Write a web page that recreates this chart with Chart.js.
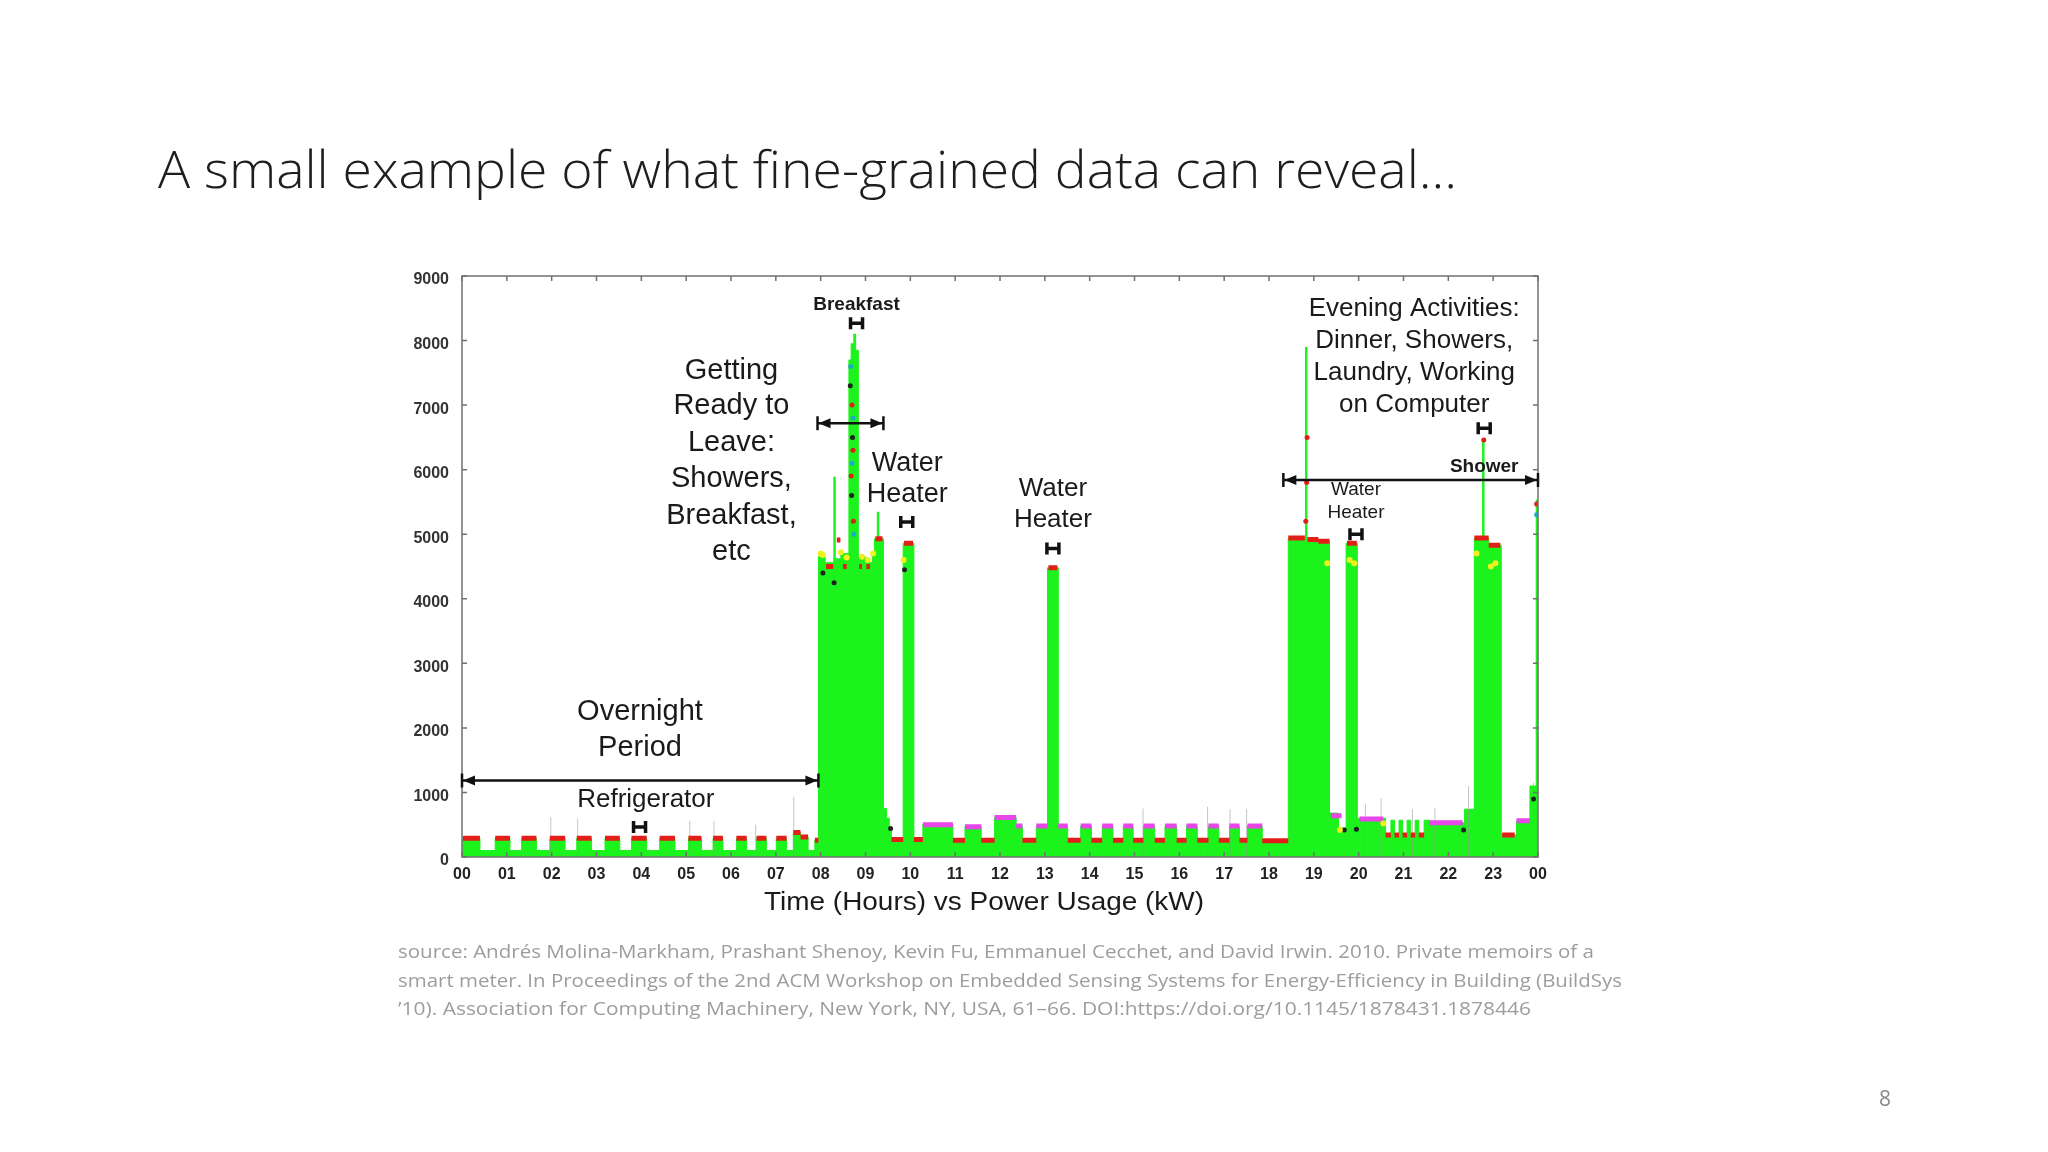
<!DOCTYPE html>
<html>
<head>
<meta charset="utf-8">
<title>Time (Hours) vs Power Usage</title>
<script src="https://cdn.jsdelivr.net/npm/chart.js@4.4.0/dist/chart.umd.min.js"></script>
<style>
  html, body { margin: 0; padding: 0; background: #fff; }
  canvas { display: block; }
</style>
</head>
<body>
<canvas id="power" width="2048" height="1152"></canvas>
<script>
// ---- data (hours, watts) ----

// hour at which each level starts, and the level it holds until the next one
const stepHours = [0, 0.40, 0.74, 1.07, 1.33, 1.66, 1.96, 2.30, 2.56, 2.89, 3.19, 3.52, 3.78, 4.12,
  4.41, 4.75, 5.05, 5.34, 5.60, 5.82, 6.12, 6.35, 6.57, 6.79, 7.01, 7.24, 7.39, 7.55, 7.72, 7.87,
  7.95, 8.10, 8.30, 8.45, 8.63, 8.68, 8.74, 8.78, 8.84, 9.00, 9.15, 9.20, 9.40, 9.47, 9.53, 9.58,
  9.84, 10.08, 10.28, 10.95, 11.22, 11.58, 11.88, 12.36, 12.50, 12.81, 13.06, 13.30, 13.51, 13.80,
  14.04, 14.28, 14.52, 14.75, 14.97, 15.20, 15.45, 15.68, 15.94, 16.16, 16.40, 16.65, 16.88, 17.12,
  17.34, 17.52, 17.85, 18.43, 18.86, 19.10, 19.35, 19.55, 19.72, 19.97, 20.60, 20.72, 20.80, 20.90,
  20.98, 21.08, 21.16, 21.26, 21.34, 21.46, 21.58, 22.36, 22.58, 22.90, 23.18, 23.52, 23.82, 23.96, 24];
const stepWatts = [290, 100, 290, 100, 290, 100, 290, 100, 290, 100, 290, 100, 290, 100,
  290, 100, 290, 100, 290, 100, 290, 100, 290, 100, 290, 100, 380, 310, 100, 260,
  4650, 4560, 4620, 4700, 7700, 7950, 8100, 7850, 4650, 4560, 4680, 4930, 750, 600, 420, 270,
  4860, 270, 510, 260, 480, 260, 610, 480, 260, 480, 4480, 480, 260, 480,
  260, 480, 260, 480, 260, 480, 260, 480, 260, 480, 260, 480, 260, 480,
  260, 480, 250, 4940, 4920, 4890, 680, 450, 4860, 600, 340, 570, 340, 570,
  340, 570, 340, 570, 340, 570, 530, 740, 4940, 4830, 340, 560, 1100, 5530, 5530];

// red "off / heater" markers on top of the steps
const redFrom = [0.02, 0.74, 1.33, 1.96, 2.56, 3.19, 3.78, 4.41, 5.05, 5.60, 6.12, 6.57, 7.01, 7.39, 7.55, 7.87,
  8.12, 8.36, 8.50, 8.86, 9.02, 9.22, 9.58, 9.86, 10.08, 10.95, 11.58, 12.50, 13.08, 13.51, 14.04, 14.52,
  14.97, 15.45, 15.94, 16.40, 16.88, 17.34, 17.85, 18.43, 18.86, 19.10, 19.74, 20.60, 20.80, 20.98,
  21.16, 21.34, 22.58, 22.90, 23.20];
const redTo = [0.40, 1.07, 1.66, 2.30, 2.89, 3.52, 4.12, 4.75, 5.34, 5.82, 6.35, 6.79, 7.24, 7.55, 7.72, 7.95,
  8.28, 8.44, 8.58, 8.92, 9.10, 9.38, 9.84, 10.06, 10.28, 11.22, 11.88, 12.81, 13.28, 13.80, 14.28, 14.75,
  15.20, 15.68, 16.16, 16.65, 17.12, 17.52, 18.43, 18.80, 19.10, 19.35, 19.96, 20.72, 20.90, 21.08,
  21.26, 21.46, 22.90, 23.16, 23.48];
const redWatts = [290, 290, 290, 290, 290, 290, 290, 290, 290, 290, 290, 290, 290, 380, 310, 260,
  4500, 4910, 4500, 4500, 4500, 4930, 270, 4860, 270, 260, 260, 260, 4480, 260, 260, 260,
  260, 260, 260, 260, 260, 260, 250, 4940, 4920, 4890, 4860, 340, 340, 340,
  340, 340, 4940, 4830, 340];

// magenta "refrigerator on" markers
const pinkFrom = [10.28, 11.22, 11.88, 12.36, 12.81, 13.30, 13.80, 14.28, 14.75, 15.20, 15.68, 16.16, 16.65,
  17.12, 17.52, 19.38, 20.02, 21.58, 23.52];
const pinkTo = [10.95, 11.58, 12.36, 12.50, 13.06, 13.51, 14.04, 14.52, 14.97, 15.45, 15.94, 16.40, 16.88,
  17.34, 17.85, 19.62, 20.55, 22.32, 23.82];
const pinkWatts = [500, 470, 610, 480, 480, 480, 480, 480, 480, 480, 480, 480, 480,
  480, 480, 640, 590, 530, 560];

// thin spikes (green inside the big loads, faint grey elsewhere)
const greenSpikeHours = [8.31, 9.28, 18.83, 22.78];
const greenSpikeWatts = [5890, 5350, 7900, 6460];
const greySpikeHours = [1.98, 2.58, 5.08, 5.62, 6.55, 7.40, 15.19, 16.63, 17.13, 17.50, 20.15, 20.50, 21.20, 21.70, 22.45, 23.90];
const greySpikeWatts = [620, 600, 560, 560, 500, 930, 750, 780, 740, 740, 830, 910, 740, 760, 1100, 1150];

// scattered classification dots
const yellowHours = [8.00, 8.05, 8.45, 8.58, 8.92, 9.05, 9.17, 9.85, 19.30, 19.80, 19.90, 22.63, 22.95, 23.05, 19.58, 20.55];
const yellowWatts = [4700, 4680, 4720, 4640, 4650, 4600, 4700, 4600, 4550, 4600, 4550, 4700, 4500, 4550, 420, 520];
const blackHours = [8.05, 8.30, 9.56, 9.87, 19.68, 19.95, 22.34, 23.90, 8.66, 8.71, 8.69];
const blackWatts = [4400, 4250, 440, 4450, 420, 430, 420, 900, 7300, 6500, 5600];
const redDotHours = [8.70, 8.72, 8.68, 8.73, 18.85, 18.84, 18.82, 22.79, 23.97];
const redDotWatts = [7000, 6300, 5900, 5200, 6500, 5800, 5200, 6460, 5470];
const cyanDotHours = [8.67, 8.72, 8.70, 8.74, 23.97];
const cyanDotWatts = [7600, 6800, 6100, 5000, 5300];

// annotations, anchored in hours / watts
const noteLines = ['Getting', 'Ready to', 'Leave:', 'Showers,', 'Breakfast,', 'etc',
  'Breakfast', 'Water', 'Heater', 'Water', 'Heater', 'Overnight', 'Period', 'Refrigerator',
  'Evening Activities:', 'Dinner, Showers,', 'Laundry, Working', 'on Computer', 'Shower', 'Water', 'Heater'];
const noteHours = [6.01, 6.01, 6.01, 6.01, 6.01, 6.01,
  8.80, 9.93, 9.93, 13.18, 13.18, 3.97, 3.97, 4.10,
  21.24, 21.24, 21.24, 21.24, 22.80, 19.94, 19.94];
const noteWatts = [7530, 6980, 6410, 5850, 5280, 4720,
  8555, 6090, 5610, 5700, 5225, 2240, 1690, 890,
  8490, 7990, 7505, 7000, 6050, 5690, 5335];
const noteKinds = ['big', 'big', 'big', 'big', 'big', 'big',
  'bold', 'wh', 'wh', 'mid', 'mid', 'big', 'big', 'mid',
  'mid', 'mid', 'mid', 'mid', 'bold', 'small', 'small'];

const markHours = [3.96, 8.80, 9.92, 13.18, 19.94, 22.80];
const markWatts = [465, 8270, 5190, 4780, 5000, 6640];

const arrowFrom = [0, 7.93, 18.32];
const arrowTo = [7.95, 9.40, 24];
const arrowWatts = [1185, 6720, 5840];

const hourLabels = ['00', '01', '02', '03', '04', '05', '06', '07', '08', '09', '10', '11', '12',
  '13', '14', '15', '16', '17', '18', '19', '20', '21', '22', '23', '00'];
const wattTicks = [0, 1000, 2000, 3000, 4000, 5000, 6000, 7000, 8000, 9000];

const sourceLines = [
  'source: Andrés Molina-Markham, Prashant Shenoy, Kevin Fu, Emmanuel Cecchet, and David Irwin. 2010. Private memoirs of a',
  'smart meter. In Proceedings of the 2nd ACM Workshop on Embedded Sensing Systems for Energy-Efficiency in Building (BuildSys',
  '\u201910). Association for Computing Machinery, New York, NY, USA, 61\u201366. DOI:https://doi.org/10.1145/1878431.1878446'
];

// ---- helpers ----
const SANS = '"Liberation Sans", Arial, sans-serif';
const SLIDE = '"Open Sans", "Noto Sans", sans-serif';

function points(hours, watts) {
  return hours.map((h, i) => ({ x: h, y: watts[i] }));
}

function segments(from, to, watts) {
  return from.flatMap((f, i) => [{ x: f, y: watts[i] }, { x: to[i], y: watts[i] }, { x: to[i], y: null }]);
}

function spikes(hours, watts) {
  return hours.flatMap((h, i) => [{ x: h, y: 0 }, { x: h, y: watts[i] }, { x: h, y: null }]);
}

function fitText(ctx, text, x, y, width, align) {
  const w = ctx.measureText(text).width;
  ctx.save();
  ctx.translate(x, y);
  ctx.scale(width / w, 1);
  ctx.textAlign = align;
  ctx.fillText(text, 0, 0);
  ctx.restore();
}

const noteFonts = {
  big: '29px ' + SANS,
  wh: '27px ' + SANS,
  mid: '26px ' + SANS,
  small: '19px ' + SANS,
  bold: 'bold 19px ' + SANS
};

const slidePlugin = {
  id: 'slide',
  beforeDraw(chart) {
    const ctx = chart.ctx;
    ctx.save();
    ctx.fillStyle = '#fff';
    ctx.fillRect(0, 0, chart.width, chart.height);

    ctx.fillStyle = '#1e1e1e';
    ctx.font = '300 51px ' + SLIDE;
    ctx.textBaseline = 'alphabetic';
    fitText(ctx, 'A small example of what fine-grained data can reveal...', 158, 188, 1299, 'left');

    ctx.fillStyle = '#9d9d9d';
    ctx.font = '19px ' + SLIDE;
    const widths = [1196, 1224, 1133];
    const bases = [958, 987, 1015];
    sourceLines.forEach((line, i) => fitText(ctx, line, 398, bases[i], widths[i], 'left'));

    ctx.fillStyle = '#8a8a8a';
    ctx.font = '21px ' + SLIDE;
    ctx.textAlign = 'center';
    ctx.fillText('8', 1885, 1106);
    ctx.restore();
  },
  afterDatasetsDraw(chart) {
    const { ctx, chartArea: a, scales: { x, y } } = chart;
    ctx.save();

    // frame with inward ticks
    ctx.strokeStyle = '#707070';
    ctx.lineWidth = 1.5;
    ctx.strokeRect(a.left, a.top, a.right - a.left, a.bottom - a.top);
    ctx.beginPath();
    hourLabels.forEach((_, h) => {
      const px = x.getPixelForValue(h);
      ctx.moveTo(px, a.top); ctx.lineTo(px, a.top + 5);
      ctx.moveTo(px, a.bottom); ctx.lineTo(px, a.bottom - 5);
    });
    wattTicks.forEach(v => {
      const py = y.getPixelForValue(v);
      ctx.moveTo(a.left, py); ctx.lineTo(a.left + 5, py);
      ctx.moveTo(a.right, py); ctx.lineTo(a.right - 5, py);
    });
    ctx.stroke();

    // arrows
    ctx.strokeStyle = '#111';
    ctx.fillStyle = '#111';
    arrowFrom.forEach((f, i) => {
      const x1 = x.getPixelForValue(f), x2 = x.getPixelForValue(arrowTo[i]);
      const py = y.getPixelForValue(arrowWatts[i]);
      ctx.lineWidth = 2.5;
      ctx.beginPath();
      ctx.moveTo(x1, py); ctx.lineTo(x2, py);
      ctx.moveTo(x1, py - 7); ctx.lineTo(x1, py + 7);
      ctx.moveTo(x2, py - 7); ctx.lineTo(x2, py + 7);
      ctx.stroke();
      ctx.beginPath();
      ctx.moveTo(x1 + 1, py); ctx.lineTo(x1 + 13, py - 5); ctx.lineTo(x1 + 13, py + 5); ctx.closePath();
      ctx.moveTo(x2 - 1, py); ctx.lineTo(x2 - 13, py - 5); ctx.lineTo(x2 - 13, py + 5); ctx.closePath();
      ctx.fill();
    });

    // H marks
    ctx.lineWidth = 3.5;
    markHours.forEach((h, i) => {
      const px = x.getPixelForValue(h), py = y.getPixelForValue(markWatts[i]);
      ctx.beginPath();
      ctx.moveTo(px - 6, py - 6); ctx.lineTo(px - 6, py + 6);
      ctx.moveTo(px + 6, py - 6); ctx.lineTo(px + 6, py + 6);
      ctx.moveTo(px - 6, py); ctx.lineTo(px + 6, py);
      ctx.stroke();
    });

    // labels
    ctx.fillStyle = '#1a1a1a';
    ctx.textAlign = 'center';
    ctx.textBaseline = 'middle';
    noteLines.forEach((t, i) => {
      ctx.font = noteFonts[noteKinds[i]];
      ctx.fillText(t, x.getPixelForValue(noteHours[i]), y.getPixelForValue(noteWatts[i]));
    });

    // axis title
    ctx.font = '26px ' + SANS;
    ctx.textBaseline = 'middle';
    fitText(ctx, 'Time (Hours) vs Power Usage (kW)', (a.left + a.right) / 2 - 16, a.bottom + 46, 440, 'center');
    ctx.restore();
  }
};

const GREEN = 'rgb(28, 242, 28)';
const RED = 'rgb(226, 30, 24)';
const PINK = 'rgb(232, 70, 232)';

new Chart(document.getElementById('power'), {
  type: 'line',
  data: {
    datasets: [
      { label: 'Dots yellow', data: points(yellowHours, yellowWatts), showLine: false, pointRadius: 3,
        pointBorderWidth: 0, pointBackgroundColor: 'rgb(240, 240, 30)', order: 1 },
      { label: 'Dots black', data: points(blackHours, blackWatts), showLine: false, pointRadius: 2.5,
        pointBorderWidth: 0, pointBackgroundColor: '#202020', order: 1 },
      { label: 'Dots red', data: points(redDotHours, redDotWatts), showLine: false, pointRadius: 2.5,
        pointBorderWidth: 0, pointBackgroundColor: RED, order: 1 },
      { label: 'Dots cyan', data: points(cyanDotHours, cyanDotWatts), showLine: false, pointRadius: 2.5,
        pointBorderWidth: 0, pointBackgroundColor: 'rgb(30, 170, 200)', order: 1 },
      { label: 'Off', data: segments(redFrom, redTo, redWatts), borderColor: RED, borderWidth: 5,
        pointRadius: 0, spanGaps: false, fill: false, order: 2 },
      { label: 'Fridge on', data: segments(pinkFrom, pinkTo, pinkWatts), borderColor: PINK, borderWidth: 5,
        pointRadius: 0, spanGaps: false, fill: false, order: 2 },
      { label: 'Green spikes', data: spikes(greenSpikeHours, greenSpikeWatts), borderColor: GREEN, borderWidth: 2.5,
        pointRadius: 0, spanGaps: false, fill: false, order: 3 },
      { label: 'Grey spikes', data: spikes(greySpikeHours, greySpikeWatts), borderColor: 'rgba(150, 150, 150, 0.55)',
        borderWidth: 1, pointRadius: 0, spanGaps: false, fill: false, order: 4 },
      { label: 'Power', data: points(stepHours, stepWatts), stepped: true, fill: 'origin',
        backgroundColor: GREEN, borderColor: GREEN, borderWidth: 1, pointRadius: 0, order: 5 }
    ]
  },
  options: {
    responsive: false,
    animation: false,
    events: [],
    layout: { padding: { left: 402, right: 510, top: 276, bottom: 225 } },
    plugins: { legend: { display: false }, tooltip: { enabled: false } },
    scales: {
      x: {
        type: 'linear', min: 0, max: 24,
        afterBuildTicks: s => { s.ticks = hourLabels.map((_, i) => ({ value: i })); },
        afterFit: s => { s.height = 70; },
        ticks: { callback: v => hourLabels[v], autoSkip: false, maxRotation: 0, padding: 0,
          color: '#222', font: { family: SANS, weight: 'bold', size: 16 } },
        grid: { display: false },
        border: { display: false }
      },
      y: {
        min: 0, max: 9000,
        afterBuildTicks: s => { s.ticks = wattTicks.map(v => ({ value: v })); },
        afterFit: s => { s.width = 60; },
        ticks: { callback: v => String(v), padding: 5, labelOffset: 4, color: '#333',
          font: { family: SANS, weight: 'bold', size: 16 } },
        grid: { display: false },
        border: { display: false }
      }
    }
  },
  plugins: [slidePlugin]
});
</script>
</body>
</html>
